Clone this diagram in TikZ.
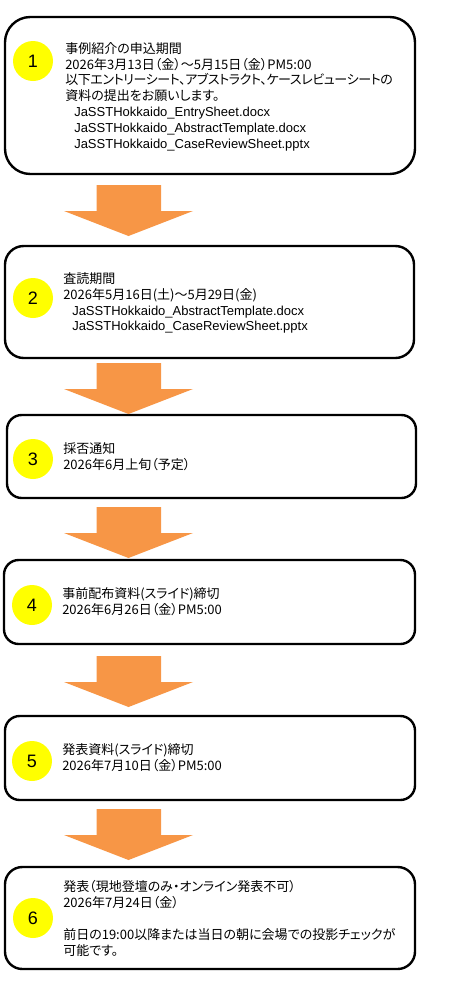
\documentclass[tikz,border=0pt]{standalone}
\usepackage{fontspec}
\setmainfont{Liberation Sans}
\newfontfamily\jp[RawFeature=+palt]{Noto Sans CJK JP}
\definecolor{arroworange}{HTML}{F79646}
\definecolor{stepyellow}{HTML}{FFFF00}

\begin{document}
\begin{tikzpicture}[x=0.75pt, y=-0.75pt,
  box/.style={draw, line width=1.8pt, inner sep=0pt},
  num/.style={circle, fill=stepyellow, minimum size=30pt, inner sep=0pt,
    font=\fontsize{13.5}{15}\selectfont},
  txt/.style={anchor=west, align=left, inner sep=0pt,
    font=\fontsize{9.75}{11.85}\selectfont}]
\useasboundingbox (0, 0) rectangle (453, 989);
% boxes
\node[box, rounded corners=19pt, minimum width=307.5pt, minimum height=117.75pt]
  at (210, 95.5) (box1) {};
\node[box, rounded corners=14pt, minimum width=306.75pt, minimum height=84pt]
  at (209.5, 302) (box2) {};
\node[box, rounded corners=11pt, minimum width=306.75pt, minimum height=62.25pt]
  at (211.5, 456.5) (box3) {};
\node[box, rounded corners=11pt, minimum width=308.25pt, minimum height=63pt]
  at (209.5, 602) (box4) {};
\node[box, rounded corners=11pt, minimum width=307.5pt, minimum height=63pt]
  at (210, 758) (box5) {};
\node[box, rounded corners=13pt, minimum width=307.5pt, minimum height=76.5pt]
  at (210, 918) (box6) {};
% numbers
\node[num] at (33, 61)  (n1) {1};
\node[num] at (33, 298) (n2) {2};
\node[num] at (33, 459) (n3) {3};
\node[num] at (32, 605) (n4) {4};
\node[num] at (32, 761) (n5) {5};
\node[num] at (33, 918) (n6) {6};
% texts
\node[txt] at (65, 96.5) (t1) {{\jp 事例紹介の申込期間}\\
  {\jp 2026年3月13日（金）～5月15日（金）PM5:00}\\
  {\jp\addfontfeature{LetterSpace=-3}以下エントリーシート、アブストラクト、ケースレビューシートの}\\
  {\jp 資料の提出をお願いします。}\\
  \hspace*{6.75pt}JaSSTHokkaido\_EntrySheet.docx\\
  \hspace*{6.75pt}JaSSTHokkaido\_AbstractTemplate.docx\\
  \hspace*{6.75pt}JaSSTHokkaido\_CaseReviewSheet.pptx};
\node[txt] at (63, 303) (t2) {{\jp 査読期間}\\
  {\jp 2026年5月16日(土)～5月29日(金)}\\
  \hspace*{6.75pt}JaSSTHokkaido\_AbstractTemplate.docx\\
  \hspace*{6.75pt}JaSSTHokkaido\_CaseReviewSheet.pptx};
\node[txt] at (63, 457) (t3) {{\jp 採否通知}\\
  {\jp 2026年6月上旬（予定）}};
\node[txt] at (62, 602) (t4) {{\jp 事前配布資料(スライド)締切}\\
  {\jp 2026年6月26日（金）PM5:00}};
\node[txt] at (62, 758) (t5) {{\jp 発表資料(スライド)締切}\\
  {\jp 2026年7月10日（金）PM5:00}};
\node[txt] at (63, 918.5) (t6) {{\jp 発表（現地登壇のみ・オンライン発表不可）}\\
  {\jp 2026年7月24日（金）}\\[11.85pt]
  {\jp 前日の19:00以降または当日の朝に会場での投影チェックが}\\
  {\jp 可能です。}};
% arrows
\foreach \t in {185, 363, 507, 656, 809}
  \fill[arroworange] (96.5, \t) -- (161, \t) -- (161, \t+26) -- (193, \t+26)
    -- (128.5, \t+51) -- (64, \t+26) -- (96.5, \t+26) -- cycle;
\end{tikzpicture}
\end{document}
